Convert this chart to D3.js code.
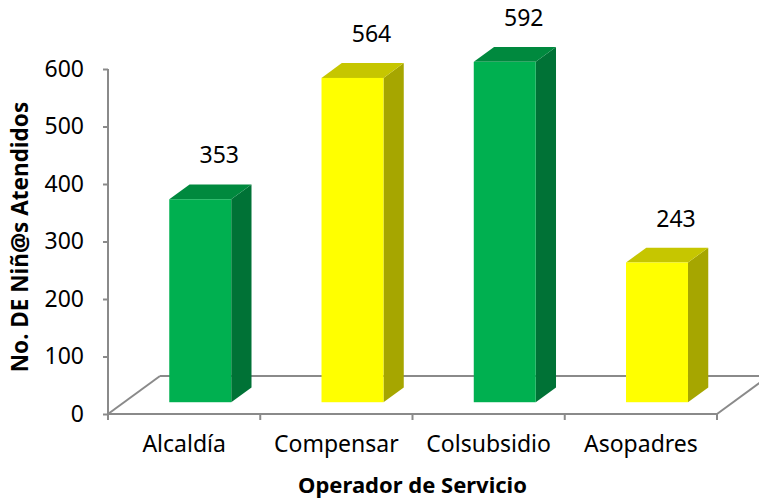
<!DOCTYPE html>
<html><head><meta charset="utf-8">
<script src="https://cdn.jsdelivr.net/npm/d3@7/dist/d3.min.js"></script>
<style>html,body{margin:0;padding:0;background:#fff;}svg{display:block;}</style>
</head><body>
<script>
const categories = ["Alcaldía", "Compensar", "Colsubsidio", "Asopadres"];
const values = [353, 564, 592, 243];
const barColors = ["green", "yellow", "green", "yellow"];
const yTicks = [0, 100, 200, 300, 400, 500, 600];
const yTitle = "No. DE Niñ@s Atendidos";
const xTitle = "Operador de Servicio";

const palette = {
  green: {front: "#00B050", top: "#00893E", side: "#007236"},
  yellow: {front: "#FFFF00", top: "#C6C600", side: "#A6A600"}
};

const W = 759, H = 499;
const font = "'Noto Sans', 'Open Sans', sans-serif";
const svg = d3.select("body").append("svg").attr("width", W).attr("height", H);

const x0 = 108, x1 = 717, yBase = 414;
const depth = [52, -38];          // floor depth vector
const barFrontF = 0.31, barBackF = 0.70;

const x = d3.scaleBand().domain(categories).range([x0, x1]);
const y = d3.scaleLinear().domain([0, 600]).range([yBase, 69]);

const grey = "#8a8a8a";

// floor
const floor = svg.append("g").attr("fill", "none").attr("stroke", grey).attr("stroke-width", 2);
floor.append("line").attr("x1", x0).attr("y1", yBase).attr("x2", x0 + depth[0]).attr("y2", yBase + depth[1]);
floor.append("line").attr("x1", x0 + depth[0]).attr("y1", yBase + depth[1]).attr("x2", x1 + depth[0]).attr("y2", yBase + depth[1]);
floor.append("line").attr("x1", x1).attr("y1", yBase).attr("x2", x1 + depth[0]).attr("y2", yBase + depth[1]);

// bars
const bw = x.bandwidth() * 0.407;
const fdx = depth[0] * barFrontF, fdy = depth[1] * barFrontF;
const bdx = depth[0] * (barBackF - barFrontF), bdy = depth[1] * (barBackF - barFrontF);

const bars = svg.append("g").selectAll("g").data(categories).join("g");
bars.each(function(c, i) {
  const g = d3.select(this);
  const col = palette[barColors[i]];
  const cx = x(c) + x.bandwidth() / 2 + fdx;
  const L = cx - bw / 2, R = cx + bw / 2;
  const B = y(0) + fdy, T = y(values[i]) + fdy;
  g.append("polygon").attr("points", [[R, B], [R + bdx, B + bdy], [R + bdx, T + bdy], [R, T]].join(" ")).attr("fill", col.side);
  g.append("polygon").attr("points", [[L, T], [L + bdx, T + bdy], [R + bdx, T + bdy], [R, T]].join(" ")).attr("fill", col.top);
  g.append("rect").attr("x", L).attr("y", T).attr("width", bw).attr("height", B - T).attr("fill", col.front);
  g.append("text").attr("x", cx + 19).attr("y", T - 44).attr("dy", "0.35em")
    .attr("text-anchor", "middle").attr("font-family", font).attr("font-size", 23).attr("fill", "#000")
    .text(values[i]);
});

// y axis
const yAxis = svg.append("g").attr("transform", `translate(${x0},0)`)
  .call(d3.axisLeft(y).tickValues(yTicks).tickSize(5).tickPadding(19));
yAxis.select(".domain").attr("stroke", grey).attr("stroke-width", 2).attr("d", `M0,${y(600)}V${yBase}`);
yAxis.selectAll(".tick line").attr("stroke", grey).attr("stroke-width", 2);
yAxis.selectAll(".tick text").attr("font-family", font).attr("font-size", 23).attr("fill", "#000");

// x axis
const xAxis = svg.append("g").attr("transform", `translate(0,${yBase})`)
  .call(d3.axisBottom(x).tickSize(0).tickPadding(22));
xAxis.select(".domain").attr("stroke", grey).attr("stroke-width", 2).attr("d", `M${x0},0H${x1}`);
xAxis.selectAll(".tick text").attr("font-family", font).attr("font-size", 23).attr("fill", "#000");
const bounds = categories.map(c => x(c)).concat([x1]);
xAxis.selectAll("line.bt").data(bounds).join("line").attr("class", "bt")
  .attr("x1", d => d).attr("x2", d => d).attr("y1", 0).attr("y2", 6)
  .attr("stroke", grey).attr("stroke-width", 2);

// titles
svg.append("text").attr("x", (x0 + x1) / 2).attr("y", 493).attr("text-anchor", "middle")
  .attr("font-family", font).attr("font-weight", "bold").attr("font-size", 22).attr("fill", "#000").text(xTitle);
svg.append("text").attr("transform", "translate(20,237) rotate(-90)").attr("text-anchor", "middle").attr("dy", "0.35em")
  .attr("font-family", font).attr("font-weight", "bold").attr("font-size", 22.5).attr("fill", "#000").text(yTitle);
</script>
</body></html>
